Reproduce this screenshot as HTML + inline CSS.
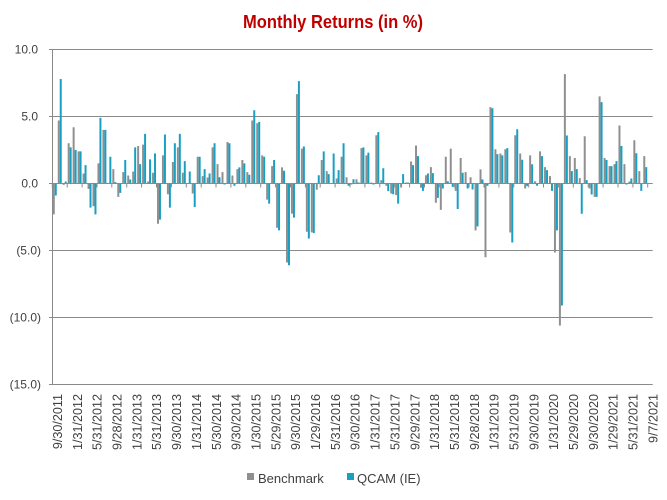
<!DOCTYPE html>
<html>
<head>
<meta charset="utf-8">
<style>
html,body{margin:0;padding:0;background:#fff;}
svg{display:block;}
text{font-family:"Liberation Sans",Arial,sans-serif;}
</style>
</head>
<body>
<svg width="667" height="500" viewBox="0 0 667 500" xmlns="http://www.w3.org/2000/svg">
<rect width="667" height="500" fill="#fff"/>
<text x="333" y="28" text-anchor="middle" font-size="18" font-weight="bold" fill="#c00000" textLength="180" lengthAdjust="spacingAndGlyphs">Monthly Returns (in %)</text>

<g stroke="#8a8a8a" stroke-width="1" fill="none">
<path d="M49 49.5H652.7M49 116.5H652.7M49 250.5H652.7M49 317.5H652.7M49 384.5H652.7"/>
</g>

<g transform="translate(52.3 183.5) scale(4.962 -13.4)">
<path fill="#8f8f8f" d="M0.1 0h.4V-2.3h-.4zM1.1 0h.4V4.7h-.4zM2.1 0h.4V-.1h-.4zM3.1 0h.4V3h-.4zM4.1 0h.4V4.2h-.4zM5.1 0h.4V2.4h-.4zM6.1 0h.4V.75h-.4zM7.1 0h.4V-.4h-.4zM8.1 0h.4V-1.7h-.4zM9.1 0h.4V1.5h-.4zM10.1 0h.4V4h-.4zM11.1 0h.4V.05h-.4zM12.1 0h.4V1.07h-.4zM13.1 0h.4V-1h-.4zM14.1 0h.4V.85h-.4zM15.1 0h.4V.6h-.4zM16.1 0h.4V.9h-.4zM17.1 0h.4V2.8h-.4zM18.1 0h.4V2.9h-.4zM19.1 0h.4V.15h-.4zM20.1 0h.4V.8h-.4zM21.1 0h.4V-3h-.4zM22.1 0h.4V2.1h-.4zM23.1 0h.4V-.8h-.4zM24.1 0h.4V1.6h-.4zM25.1 0h.4V2.7h-.4zM26.1 0h.4V.8h-.4zM27.1 0h.4V.03h-.4zM28.1 0h.4V-.75h-.4zM29.1 0h.4V2h-.4zM30.1 0h.4V.55h-.4zM31.1 0h.4V.45h-.4zM32.1 0h.4V2.7h-.4zM33.1 0h.4V1.45h-.4zM34.1 0h.4V.85h-.4zM35.1 0h.4V3.1h-.4zM36.1 0h.4V.6h-.4zM37.1 0h.4V1.07h-.4zM38.1 0h.4V1.75h-.4zM39.1 0h.4V.85h-.4zM40.1 0h.4V4.7h-.4zM41.1 0h.4V4.5h-.4zM42.1 0h.4V2.1h-.4zM43.1 0h.4V-1.2h-.4zM44.1 0h.4V1.3h-.4zM45.1 0h.4V-3.3h-.4zM46.1 0h.4V1.2h-.4zM47.1 0h.4V-5.9h-.4zM48.1 0h.4V-2.25h-.4zM49.1 0h.4V6.67h-.4zM50.1 0h.4V2.6h-.4zM51.1 0h.4V-3.6h-.4zM52.1 0h.4V-3.65h-.4zM53.1 0h.4V-.47h-.4zM54.1 0h.4V1.75h-.4zM55.1 0h.4V.92h-.4zM56.1 0h.4V.03h-.4zM57.1 0h.4V.37h-.4zM58.1 0h.4V2h-.4zM59.1 0h.4V.47h-.4zM60.1 0h.4V-.07h-.4zM61.1 0h.4V.32h-.4zM62.1 0h.4V2.64h-.4zM63.1 0h.4V2.1h-.4zM64.1 0h.4V.07h-.4zM65.1 0h.4V3.6h-.4zM66.1 0h.4V.25h-.4zM67.1 0h.4V-.17h-.4zM68.1 0h.4V-.75h-.4zM69.1 0h.4V-.87h-.4zM70.1 0h.4V-.3h-.4zM71.1 0h.4V.07h-.4zM72.1 0h.4V1.64h-.4zM73.1 0h.4V2.84h-.4zM74.1 0h.4V-.32h-.4zM75.1 0h.4V.62h-.4zM76.1 0h.4V1.22h-.4zM77.1 0h.4V-1.44h-.4zM78.1 0h.4V-1.97h-.4zM79.1 0h.4V2h-.4zM80.1 0h.4V2.6h-.4zM81.1 0h.4V-.55h-.4zM82.1 0h.4V1.9h-.4zM83.1 0h.4V.85h-.4zM84.1 0h.4V.47h-.4zM85.1 0h.4V-3.5h-.4zM86.1 0h.4V1.05h-.4zM87.1 0h.4V-5.5h-.4zM88.1 0h.4V5.7h-.4zM89.1 0h.4V2.56h-.4zM90.1 0h.4V2.24h-.4zM91.1 0h.4V2.56h-.4zM92.1 0h.4V-3.66h-.4zM93.1 0h.4V3.6h-.4zM94.1 0h.4V2.24h-.4zM95.1 0h.4V-.37h-.4zM96.1 0h.4V2.1h-.4zM97.1 0h.4V.17h-.4zM98.1 0h.4V2.4h-.4zM99.1 0h.4V1.22h-.4zM100.1 0h.4V.55h-.4zM101.1 0h.4V-5.15h-.4zM102.1 0h.4V-10.6h-.4zM103.1 0h.4V8.16h-.4zM104.1 0h.4V2.04h-.4zM105.1 0h.4V1.9h-.4zM106.1 0h.4V.4h-.4zM107.1 0h.4V3.53h-.4zM108.1 0h.4V-.37h-.4zM109.1 0h.4V-1h-.4zM110.1 0h.4V6.5h-.4zM111.1 0h.4V1.9h-.4zM112.1 0h.4V1.3h-.4zM113.1 0h.4V1.45h-.4zM114.1 0h.4V4.33h-.4zM115.1 0h.4V1.45h-.4zM116.1 0h.4V.15h-.4zM117.1 0h.4V3.23h-.4zM118.1 0h.4V.92h-.4zM119.1 0h.4V2.04h-.4z"/>
<path fill="#18a0c2" d="M0.5 0h.4V-.9h-.4zM1.5 0h.4V7.8h-.4zM2.5 0h.4V.15h-.4zM3.5 0h.4V2.7h-.4zM4.5 0h.4V2.5h-.4zM5.5 0h.4V2.4h-.4zM6.5 0h.4V1.37h-.4zM7.5 0h.4V-1.8h-.4zM8.5 0h.4V-2.3h-.4zM9.5 0h.4V4.9h-.4zM10.5 0h.4V4h-.4zM11.5 0h.4V2h-.4zM12.5 0h.4V.1h-.4zM13.5 0h.4V-.7h-.4zM14.5 0h.4V1.75h-.4zM15.5 0h.4V.3h-.4zM16.5 0h.4V2.7h-.4zM17.5 0h.4V1.45h-.4zM18.5 0h.4V3.7h-.4zM19.5 0h.4V1.8h-.4zM20.5 0h.4V2.25h-.4zM21.5 0h.4V-2.7h-.4zM22.5 0h.4V3.66h-.4zM23.5 0h.4V-1.8h-.4zM24.5 0h.4V3h-.4zM25.5 0h.4V3.7h-.4zM26.5 0h.4V1.67h-.4zM27.5 0h.4V.9h-.4zM28.5 0h.4V-1.75h-.4zM29.5 0h.4V2h-.4zM30.5 0h.4V1.07h-.4zM31.5 0h.4V.75h-.4zM32.5 0h.4V3h-.4zM33.5 0h.4V.47h-.4zM34.5 0h.4V-.07h-.4zM35.5 0h.4V3h-.4zM36.5 0h.4V-.17h-.4zM37.5 0h.4V1.2h-.4zM38.5 0h.4V1.5h-.4zM39.5 0h.4V.65h-.4zM40.5 0h.4V5.47h-.4zM41.5 0h.4V4.6h-.4zM42.5 0h.4V2h-.4zM43.5 0h.4V-1.5h-.4zM44.5 0h.4V1.75h-.4zM45.5 0h.4V-3.5h-.4zM46.5 0h.4V.95h-.4zM47.5 0h.4V-6.1h-.4zM48.5 0h.4V-2.55h-.4zM49.5 0h.4V7.64h-.4zM50.5 0h.4V2.76h-.4zM51.5 0h.4V-4.1h-.4zM52.5 0h.4V-3.7h-.4zM53.5 0h.4V.62h-.4zM54.5 0h.4V2.4h-.4zM55.5 0h.4V.7h-.4zM56.5 0h.4V2.24h-.4zM57.5 0h.4V1h-.4zM58.5 0h.4V3h-.4zM59.5 0h.4V-.17h-.4zM60.5 0h.4V.32h-.4zM61.5 0h.4V.07h-.4zM62.5 0h.4V2.7h-.4zM63.5 0h.4V2.3h-.4zM64.5 0h.4V-.07h-.4zM65.5 0h.4V3.83h-.4zM66.5 0h.4V1.14h-.4zM67.5 0h.4V-.57h-.4zM68.5 0h.4V-.8h-.4zM69.5 0h.4V-1.5h-.4zM70.5 0h.4V.7h-.4zM71.5 0h.4V.07h-.4zM72.5 0h.4V1.37h-.4zM73.5 0h.4V2.04h-.4zM74.5 0h.4V-.55h-.4zM75.5 0h.4V.75h-.4zM76.5 0h.4V.77h-.4zM77.5 0h.4V-1.07h-.4zM78.5 0h.4V-.37h-.4zM79.5 0h.4V.17h-.4zM80.5 0h.4V-.25h-.4zM81.5 0h.4V-1.9h-.4zM82.5 0h.4V.8h-.4zM83.5 0h.4V-.37h-.4zM84.5 0h.4V-.45h-.4zM85.5 0h.4V-3.2h-.4zM86.5 0h.4V.3h-.4zM87.5 0h.4V-.17h-.4zM88.5 0h.4V5.62h-.4zM89.5 0h.4V2.19h-.4zM90.5 0h.4V2.1h-.4zM91.5 0h.4V2.64h-.4zM92.5 0h.4V-4.4h-.4zM93.5 0h.4V4.05h-.4zM94.5 0h.4V1.77h-.4zM95.5 0h.4V-.2h-.4zM96.5 0h.4V1.44h-.4zM97.5 0h.4V-.17h-.4zM98.5 0h.4V2.04h-.4zM99.5 0h.4V1h-.4zM100.5 0h.4V-.55h-.4zM101.5 0h.4V-3.5h-.4zM102.5 0h.4V-9.1h-.4zM103.5 0h.4V3.58h-.4zM104.5 0h.4V.92h-.4zM105.5 0h.4V1.07h-.4zM106.5 0h.4V-2.26h-.4zM107.5 0h.4V.25h-.4zM108.5 0h.4V-.82h-.4zM109.5 0h.4V-1h-.4zM110.5 0h.4V6.07h-.4zM111.5 0h.4V1.75h-.4zM112.5 0h.4V1.3h-.4zM113.5 0h.4V1.67h-.4zM114.5 0h.4V2.8h-.4zM115.5 0h.4V-.07h-.4zM116.5 0h.4V.37h-.4zM117.5 0h.4V2.26h-.4zM118.5 0h.4V-.55h-.4zM119.5 0h.4V1.22h-.4z"/>
</g>

<g stroke="#8a8a8a" stroke-width="1" fill="none">
<path d="M52.5 49V384.5M49 183.5H652.7"/>
<path d="M52.3 183.5v4M67.2 183.5v4M82.1 183.5v4M97 183.5v4M111.8 183.5v4M126.7 183.5v4M141.6 183.5v4M156.5 183.5v4M171.4 183.5v4M186.3 183.5v4M201.2 183.5v4M216 183.5v4M230.9 183.5v4M245.8 183.5v4M260.7 183.5v4M275.6 183.5v4M290.5 183.5v4M305.4 183.5v4M320.2 183.5v4M335.1 183.5v4M350 183.5v4M364.9 183.5v4M379.8 183.5v4M394.7 183.5v4M409.6 183.5v4M424.5 183.5v4M439.3 183.5v4M454.2 183.5v4M469.1 183.5v4M484 183.5v4M498.9 183.5v4M513.8 183.5v4M528.7 183.5v4M543.5 183.5v4M558.4 183.5v4M573.3 183.5v4M588.2 183.5v4M603.1 183.5v4M618 183.5v4M632.9 183.5v4M647.7 183.5v4"/>
</g>

<g font-size="12" fill="#404040">
<text x="38" y="53.7" text-anchor="end">10.0</text>
<text x="38" y="120.7" text-anchor="end">5.0</text>
<text x="38" y="187.7" text-anchor="end">0.0</text>
<text x="41" y="254.7" text-anchor="end">(5.0)</text>
<text x="41" y="321.7" text-anchor="end">(10.0)</text>
<text x="41" y="388.7" text-anchor="end">(15.0)</text>
</g>

<g font-size="12.6" fill="#404040" text-anchor="end">
<text transform="translate(62 394) rotate(-90)">9/30/2011</text>
<text transform="translate(81.8 394) rotate(-90)">1/31/2012</text>
<text transform="translate(101.7 394) rotate(-90)">5/31/2012</text>
<text transform="translate(121.5 394) rotate(-90)">9/28/2012</text>
<text transform="translate(141.4 394) rotate(-90)">1/31/2013</text>
<text transform="translate(161.2 394) rotate(-90)">5/31/2013</text>
<text transform="translate(181.1 394) rotate(-90)">9/30/2013</text>
<text transform="translate(200.9 394) rotate(-90)">1/31/2014</text>
<text transform="translate(220.8 394) rotate(-90)">5/30/2014</text>
<text transform="translate(240.6 394) rotate(-90)">9/30/2014</text>
<text transform="translate(260.5 394) rotate(-90)">1/30/2015</text>
<text transform="translate(280.3 394) rotate(-90)">5/29/2015</text>
<text transform="translate(300.2 394) rotate(-90)">9/30/2015</text>
<text transform="translate(320 394) rotate(-90)">1/29/2016</text>
<text transform="translate(339.9 394) rotate(-90)">5/31/2016</text>
<text transform="translate(359.7 394) rotate(-90)">9/30/2016</text>
<text transform="translate(379.6 394) rotate(-90)">1/31/2017</text>
<text transform="translate(399.4 394) rotate(-90)">5/31/2017</text>
<text transform="translate(419.3 394) rotate(-90)">9/29/2017</text>
<text transform="translate(439.1 394) rotate(-90)">1/31/2018</text>
<text transform="translate(459 394) rotate(-90)">5/31/2018</text>
<text transform="translate(478.8 394) rotate(-90)">9/28/2018</text>
<text transform="translate(498.7 394) rotate(-90)">1/31/2019</text>
<text transform="translate(518.5 394) rotate(-90)">5/31/2019</text>
<text transform="translate(538.4 394) rotate(-90)">9/30/2019</text>
<text transform="translate(558.2 394) rotate(-90)">1/31/2020</text>
<text transform="translate(578 394) rotate(-90)">5/29/2020</text>
<text transform="translate(597.9 394) rotate(-90)">9/30/2020</text>
<text transform="translate(617.7 394) rotate(-90)">1/29/2021</text>
<text transform="translate(637.6 394) rotate(-90)">5/31/2021</text>
<text transform="translate(657.4 394) rotate(-90)">9/7/2021</text>
</g>

<rect x="247" y="473" width="7" height="7" fill="#8f8f8f"/>
<text x="258" y="483" font-size="13" fill="#404040">Benchmark</text>
<rect x="347" y="473" width="7" height="7" fill="#18a0c2"/>
<text x="357" y="483" font-size="13" fill="#404040">QCAM (IE)</text>
</svg>
</body>
</html>
